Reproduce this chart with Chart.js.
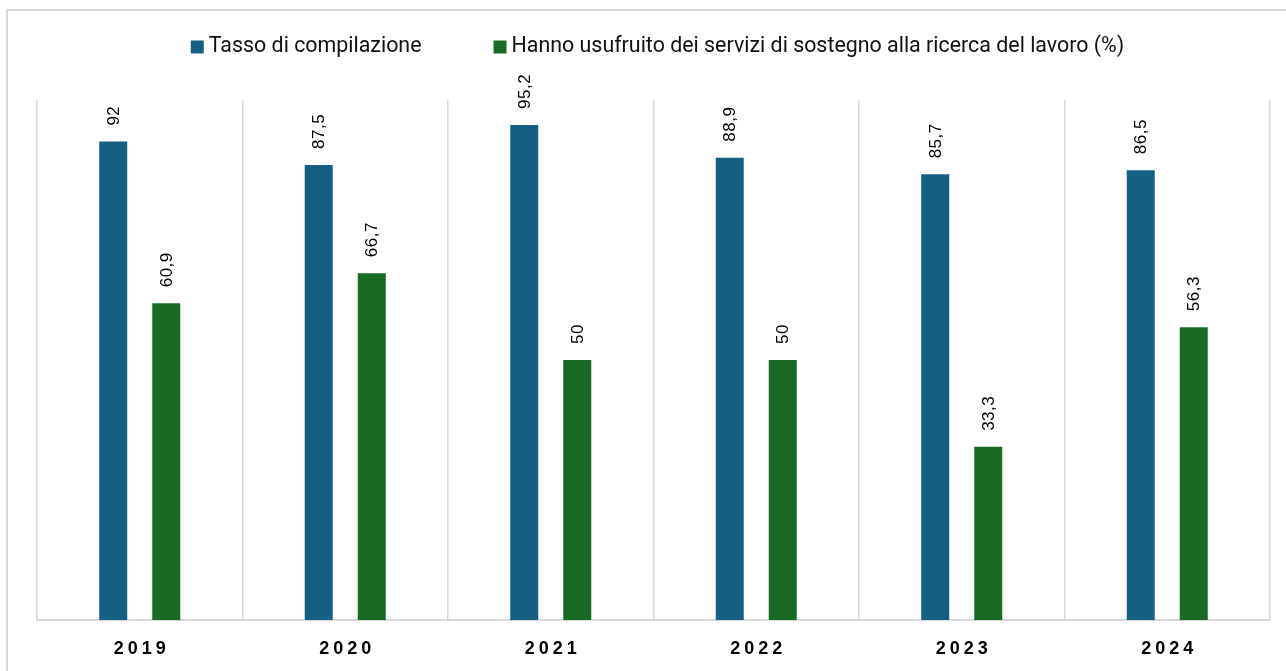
<!DOCTYPE html>
<html>
<head>
<meta charset="utf-8">
<style>
  html, body { margin: 0; padding: 0; background: #fff; overflow: hidden; }
  #frame { position: absolute; left: 6px; top: 9px; width: 1400px; height: 800px; border: 2px solid #d9d9d9; }
  #wrap { position: absolute; left: 0; top: 0; width: 1286px; height: 671px; }
</style>
<script src="https://cdn.jsdelivr.net/npm/chart.js@4.4.1/dist/chart.umd.min.js"></script>
</head>
<body>
<div id="frame"></div>
<div id="wrap"><canvas id="tassoChart" width="1286" height="671"></canvas></div>
<script>
  const years = ['2019', '2020', '2021', '2022', '2023', '2024']
  const tassoCompilazione = [92, 87.5, 95.2, 88.9, 85.7, 86.5]
  const serviziRicerca = [60.9, 66.7, 50, 50, 33.3, 56.3]
  const seriesNames = [
    'Tasso di compilazione',
    'Hanno usufruito dei servizi di sostegno alla ricerca del lavoro (%)'
  ]

  const fmt = v => String(v).replace('.', ',')

  // labels above bars, legend on top, spaced-out year labels
  const decorations = {
    id: 'decorations',
    afterDraw (chart) {
      const { ctx, chartArea } = chart
      ctx.save()

      // value labels, rotated
      ctx.font = '17px "Liberation Sans", Arial, sans-serif'
      ctx.fillStyle = '#000'
      ctx.textAlign = 'left'
      ctx.textBaseline = 'middle'
      ctx.letterSpacing = '0.5px'
      chart.data.datasets.forEach((ds, i) => {
        chart.getDatasetMeta(i).data.forEach((bar, j) => {
          ctx.save()
          ctx.translate(bar.x + 1, bar.y - 16)
          ctx.rotate(-Math.PI / 2)
          ctx.fillText(fmt(ds.data[j]), 0, 0)
          ctx.restore()
        })
      })

      // year labels
      const xScale = chart.scales.x
      ctx.font = 'bold 18px "Liberation Sans", Arial, sans-serif'
      ctx.letterSpacing = '4px'
      ctx.textBaseline = 'alphabetic'
      chart.data.labels.forEach((lab, i) => {
        const w = ctx.measureText(lab).width - 4
        ctx.fillText(lab, xScale.getPixelForTick(i) - w / 2, 654)
      })
      ctx.letterSpacing = '0px'

      // legend
      ctx.font = '21.4px Roboto, sans-serif'
      ctx.textBaseline = 'middle'
      const box = 13, gapText = 5, gapItem = 72
      const items = chart.data.datasets.map(ds => ({
        text: ds.label, color: ds.backgroundColor, w: box + gapText + ctx.measureText(ds.label).width
      }))
      const total = items.reduce((s, it) => s + it.w, 0) + gapItem * (items.length - 1)
      let x = (chartArea.left + chartArea.right) / 2 + 4 - total / 2
      const y = 47
      items.forEach(it => {
        ctx.fillStyle = it.color
        ctx.fillRect(x, y - box / 2, box, box)
        ctx.fillStyle = '#111'
        ctx.fillText(it.text, x + box + gapText, y)
        x += it.w + gapItem
      })

      ctx.restore()
    }
  }

  const ctx = document.getElementById('tassoChart')
  // eslint-disable-next-line no-unused-vars
  const tassoChart = new Chart(ctx, {
    type: 'bar',
    data: {
      labels: years,
      datasets: [{
        label: seriesNames[0],
        data: tassoCompilazione,
        backgroundColor: '#156082'
      }, {
        label: seriesNames[1],
        data: serviziRicerca,
        backgroundColor: '#196B24'
      }]
    },
    options: {
      responsive: false,
      animation: false,
      categoryPercentage: 0.516,
      barPercentage: 0.528,
      layout: {
        padding: { left: 37, right: 16, top: 100, bottom: 51 }
      },
      scales: {
        x: {
          ticks: { display: false },
          grid: { color: '#d9d9d9', lineWidth: 1.5, drawTicks: false },
          border: { color: '#d9d9d9', width: 2 }
        },
        y: {
          display: false,
          min: 0,
          max: 100
        }
      },
      plugins: {
        legend: { display: false },
        tooltip: { enabled: false }
      }
    },
    plugins: [decorations]
  })
</script>
</body>
</html>
